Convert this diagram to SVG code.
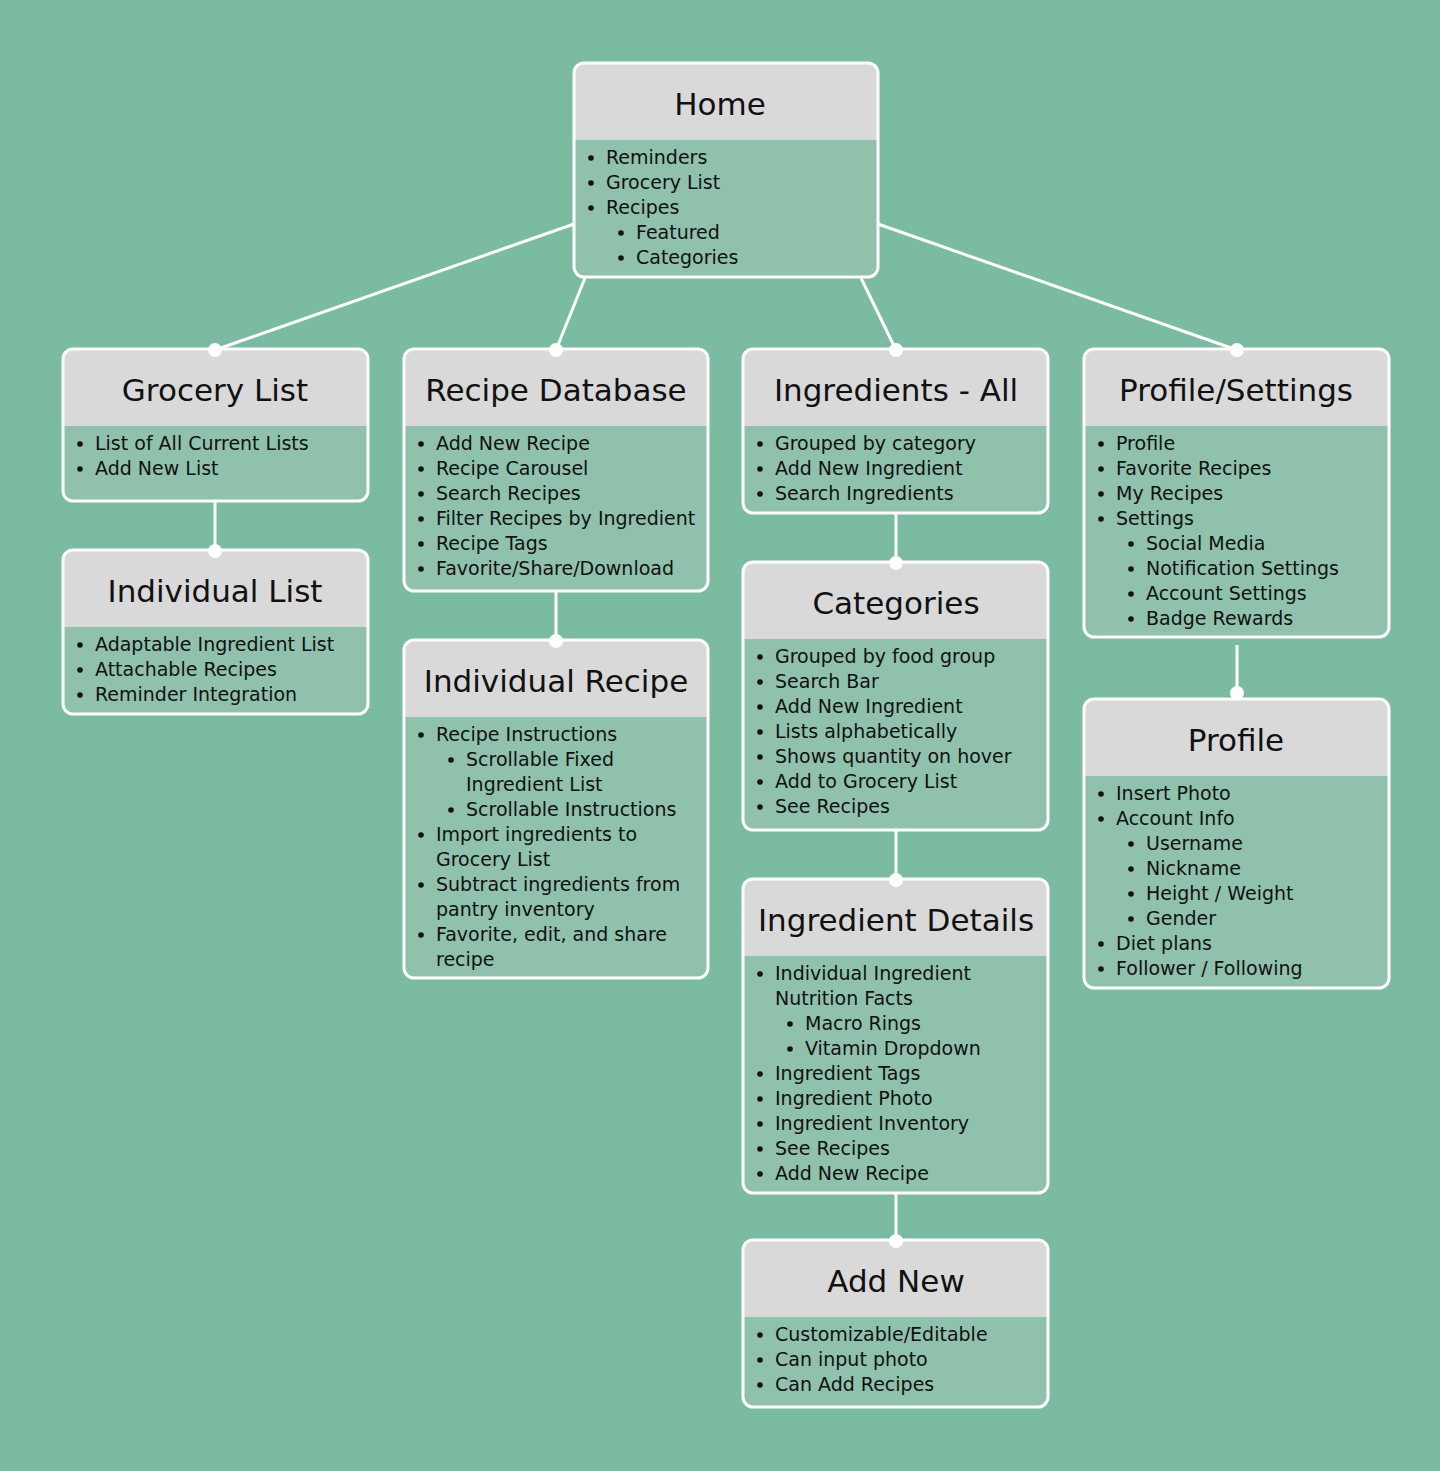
<svg xmlns="http://www.w3.org/2000/svg" width="1440" height="1471" viewBox="0 0 1440 1471">
<style>
.body{fill:#8fc1ad}
.hdr{fill:#d9d9d9}
.outline{fill:none;stroke:#ffffff;stroke-width:3}
.t{font-family:"DejaVu Sans",sans-serif;font-size:31px;fill:#111;text-anchor:middle}
.i{font-family:"DejaVu Sans",sans-serif;font-size:19px;fill:#111}
.b{fill:#111}
.conn{stroke:#ffffff;stroke-width:3;fill:none}
.dot{fill:#ffffff}
</style>
<rect x="0" y="0" width="1440" height="1471" fill="#7abba2"/>

<g id="home">
<rect class="body" x="574" y="63" width="304" height="214" rx="10"/>
<path class="hdr" d="M574,140 V73 Q574,63 584,63 H868 Q878,63 878,73 V140 Z"/>
<rect class="outline" x="574" y="63" width="304" height="214" rx="10"/>
<text class="t" x="720" y="115">Home</text>
<g transform="translate(0,1)">
<circle class="b" cx="591" cy="157" r="2.8"/><text class="i" x="606" y="163">Reminders</text>
<circle class="b" cx="591" cy="182" r="2.8"/><text class="i" x="606" y="188">Grocery List</text>
<circle class="b" cx="591" cy="207" r="2.8"/><text class="i" x="606" y="213">Recipes</text>
<circle class="b" cx="621" cy="232" r="2.8"/><text class="i" x="636" y="238">Featured</text>
<circle class="b" cx="621" cy="257" r="2.8"/><text class="i" x="636" y="263">Categories</text>
</g>
</g>

<g id="grocery-list">
<rect class="body" x="63" y="349" width="305" height="152" rx="10"/>
<path class="hdr" d="M63,426 V359 Q63,349 73,349 H358 Q368,349 368,359 V426 Z"/>
<rect class="outline" x="63" y="349" width="305" height="152" rx="10"/>
<text class="t" x="215" y="401">Grocery List</text>
<g transform="translate(0,1)">
<circle class="b" cx="80" cy="443" r="2.8"/><text class="i" x="95" y="449">List of All Current Lists</text>
<circle class="b" cx="80" cy="468" r="2.8"/><text class="i" x="95" y="474">Add New List</text>
</g>
</g>

<g id="recipe-database">
<rect class="body" x="404" y="349" width="304" height="242" rx="10"/>
<path class="hdr" d="M404,426 V359 Q404,349 414,349 H698 Q708,349 708,359 V426 Z"/>
<rect class="outline" x="404" y="349" width="304" height="242" rx="10"/>
<text class="t" x="556" y="401">Recipe Database</text>
<g transform="translate(0,1)">
<circle class="b" cx="421" cy="443" r="2.8"/><text class="i" x="436" y="449">Add New Recipe</text>
<circle class="b" cx="421" cy="468" r="2.8"/><text class="i" x="436" y="474">Recipe Carousel</text>
<circle class="b" cx="421" cy="493" r="2.8"/><text class="i" x="436" y="499">Search Recipes</text>
<circle class="b" cx="421" cy="518" r="2.8"/><text class="i" x="436" y="524">Filter Recipes by Ingredient</text>
<circle class="b" cx="421" cy="543" r="2.8"/><text class="i" x="436" y="549">Recipe Tags</text>
<circle class="b" cx="421" cy="568" r="2.8"/><text class="i" x="436" y="574">Favorite/Share/Download</text>
</g>
</g>

<g id="ingredients-all">
<rect class="body" x="743" y="349" width="305" height="164" rx="10"/>
<path class="hdr" d="M743,426 V359 Q743,349 753,349 H1038 Q1048,349 1048,359 V426 Z"/>
<rect class="outline" x="743" y="349" width="305" height="164" rx="10"/>
<text class="t" x="896" y="401">Ingredients - All</text>
<g transform="translate(0,1)">
<circle class="b" cx="760" cy="443" r="2.8"/><text class="i" x="775" y="449">Grouped by category</text>
<circle class="b" cx="760" cy="468" r="2.8"/><text class="i" x="775" y="474">Add New Ingredient</text>
<circle class="b" cx="760" cy="493" r="2.8"/><text class="i" x="775" y="499">Search Ingredients</text>
</g>
</g>

<g id="profile-settings">
<rect class="body" x="1084" y="349" width="305" height="288" rx="10"/>
<path class="hdr" d="M1084,426 V359 Q1084,349 1094,349 H1379 Q1389,349 1389,359 V426 Z"/>
<rect class="outline" x="1084" y="349" width="305" height="288" rx="10"/>
<text class="t" x="1236" y="401">Profile/Settings</text>
<g transform="translate(0,1)">
<circle class="b" cx="1101" cy="443" r="2.8"/><text class="i" x="1116" y="449">Profile</text>
<circle class="b" cx="1101" cy="468" r="2.8"/><text class="i" x="1116" y="474">Favorite Recipes</text>
<circle class="b" cx="1101" cy="493" r="2.8"/><text class="i" x="1116" y="499">My Recipes</text>
<circle class="b" cx="1101" cy="518" r="2.8"/><text class="i" x="1116" y="524">Settings</text>
<circle class="b" cx="1131" cy="543" r="2.8"/><text class="i" x="1146" y="549">Social Media</text>
<circle class="b" cx="1131" cy="568" r="2.8"/><text class="i" x="1146" y="574">Notification Settings</text>
<circle class="b" cx="1131" cy="593" r="2.8"/><text class="i" x="1146" y="599">Account Settings</text>
<circle class="b" cx="1131" cy="618" r="2.8"/><text class="i" x="1146" y="624">Badge Rewards</text>
</g>
</g>

<g id="individual-list">
<rect class="body" x="63" y="550" width="305" height="164" rx="10"/>
<path class="hdr" d="M63,627 V560 Q63,550 73,550 H358 Q368,550 368,560 V627 Z"/>
<rect class="outline" x="63" y="550" width="305" height="164" rx="10"/>
<text class="t" x="215" y="602">Individual List</text>
<g transform="translate(0,1)">
<circle class="b" cx="80" cy="644" r="2.8"/><text class="i" x="95" y="650">Adaptable Ingredient List</text>
<circle class="b" cx="80" cy="669" r="2.8"/><text class="i" x="95" y="675">Attachable Recipes</text>
<circle class="b" cx="80" cy="694" r="2.8"/><text class="i" x="95" y="700">Reminder Integration</text>
</g>
</g>

<g id="individual-recipe">
<rect class="body" x="404" y="640" width="304" height="338" rx="10"/>
<path class="hdr" d="M404,717 V650 Q404,640 414,640 H698 Q708,640 708,650 V717 Z"/>
<rect class="outline" x="404" y="640" width="304" height="338" rx="10"/>
<text class="t" x="556" y="692">Individual Recipe</text>
<g transform="translate(0,1)">
<circle class="b" cx="421" cy="734" r="2.8"/><text class="i" x="436" y="740">Recipe Instructions</text>
<circle class="b" cx="451" cy="759" r="2.8"/><text class="i" x="466" y="765">Scrollable Fixed</text>
<text class="i" x="466" y="790">Ingredient List</text>
<circle class="b" cx="451" cy="809" r="2.8"/><text class="i" x="466" y="815">Scrollable Instructions</text>
<circle class="b" cx="421" cy="834" r="2.8"/><text class="i" x="436" y="840">Import ingredients to</text>
<text class="i" x="436" y="865">Grocery List</text>
<circle class="b" cx="421" cy="884" r="2.8"/><text class="i" x="436" y="890">Subtract ingredients from</text>
<text class="i" x="436" y="915">pantry inventory</text>
<circle class="b" cx="421" cy="934" r="2.8"/><text class="i" x="436" y="940">Favorite, edit, and share</text>
<text class="i" x="436" y="965">recipe</text>
</g>
</g>

<g id="categories">
<rect class="body" x="743" y="562" width="305" height="268" rx="10"/>
<path class="hdr" d="M743,639 V572 Q743,562 753,562 H1038 Q1048,562 1048,572 V639 Z"/>
<rect class="outline" x="743" y="562" width="305" height="268" rx="10"/>
<text class="t" x="896" y="614">Categories</text>
<g transform="translate(0,1)">
<circle class="b" cx="760" cy="656" r="2.8"/><text class="i" x="775" y="662">Grouped by food group</text>
<circle class="b" cx="760" cy="681" r="2.8"/><text class="i" x="775" y="687">Search Bar</text>
<circle class="b" cx="760" cy="706" r="2.8"/><text class="i" x="775" y="712">Add New Ingredient</text>
<circle class="b" cx="760" cy="731" r="2.8"/><text class="i" x="775" y="737">Lists alphabetically</text>
<circle class="b" cx="760" cy="756" r="2.8"/><text class="i" x="775" y="762">Shows quantity on hover</text>
<circle class="b" cx="760" cy="781" r="2.8"/><text class="i" x="775" y="787">Add to Grocery List</text>
<circle class="b" cx="760" cy="806" r="2.8"/><text class="i" x="775" y="812">See Recipes</text>
</g>
</g>

<g id="ingredient-details">
<rect class="body" x="743" y="879" width="305" height="314" rx="10"/>
<path class="hdr" d="M743,956 V889 Q743,879 753,879 H1038 Q1048,879 1048,889 V956 Z"/>
<rect class="outline" x="743" y="879" width="305" height="314" rx="10"/>
<text class="t" x="896" y="931">Ingredient Details</text>
<g transform="translate(0,1)">
<circle class="b" cx="760" cy="973" r="2.8"/><text class="i" x="775" y="979">Individual Ingredient</text>
<text class="i" x="775" y="1004">Nutrition Facts</text>
<circle class="b" cx="790" cy="1023" r="2.8"/><text class="i" x="805" y="1029">Macro Rings</text>
<circle class="b" cx="790" cy="1048" r="2.8"/><text class="i" x="805" y="1054">Vitamin Dropdown</text>
<circle class="b" cx="760" cy="1073" r="2.8"/><text class="i" x="775" y="1079">Ingredient Tags</text>
<circle class="b" cx="760" cy="1098" r="2.8"/><text class="i" x="775" y="1104">Ingredient Photo</text>
<circle class="b" cx="760" cy="1123" r="2.8"/><text class="i" x="775" y="1129">Ingredient Inventory</text>
<circle class="b" cx="760" cy="1148" r="2.8"/><text class="i" x="775" y="1154">See Recipes</text>
<circle class="b" cx="760" cy="1173" r="2.8"/><text class="i" x="775" y="1179">Add New Recipe</text>
</g>
</g>

<g id="add-new">
<rect class="body" x="743" y="1240" width="305" height="167" rx="10"/>
<path class="hdr" d="M743,1317 V1250 Q743,1240 753,1240 H1038 Q1048,1240 1048,1250 V1317 Z"/>
<rect class="outline" x="743" y="1240" width="305" height="167" rx="10"/>
<text class="t" x="896" y="1292">Add New</text>
<g transform="translate(0,1)">
<circle class="b" cx="760" cy="1334" r="2.8"/><text class="i" x="775" y="1340">Customizable/Editable</text>
<circle class="b" cx="760" cy="1359" r="2.8"/><text class="i" x="775" y="1365">Can input photo</text>
<circle class="b" cx="760" cy="1384" r="2.8"/><text class="i" x="775" y="1390">Can Add Recipes</text>
</g>
</g>

<g id="profile">
<rect class="body" x="1084" y="699" width="305" height="289" rx="10"/>
<path class="hdr" d="M1084,776 V709 Q1084,699 1094,699 H1379 Q1389,699 1389,709 V776 Z"/>
<rect class="outline" x="1084" y="699" width="305" height="289" rx="10"/>
<text class="t" x="1236" y="751">Profile</text>
<g transform="translate(0,1)">
<circle class="b" cx="1101" cy="793" r="2.8"/><text class="i" x="1116" y="799">Insert Photo</text>
<circle class="b" cx="1101" cy="818" r="2.8"/><text class="i" x="1116" y="824">Account Info</text>
<circle class="b" cx="1131" cy="843" r="2.8"/><text class="i" x="1146" y="849">Username</text>
<circle class="b" cx="1131" cy="868" r="2.8"/><text class="i" x="1146" y="874">Nickname</text>
<circle class="b" cx="1131" cy="893" r="2.8"/><text class="i" x="1146" y="899">Height / Weight</text>
<circle class="b" cx="1131" cy="918" r="2.8"/><text class="i" x="1146" y="924">Gender</text>
<circle class="b" cx="1101" cy="943" r="2.8"/><text class="i" x="1116" y="949">Diet plans</text>
<circle class="b" cx="1101" cy="968" r="2.8"/><text class="i" x="1116" y="974">Follower / Following</text>
</g>
</g>

<g id="connectors">
<line class="conn" x1="574" y1="224" x2="215" y2="350"/>
<line class="conn" x1="585" y1="278" x2="556" y2="350"/>
<line class="conn" x1="861" y1="278" x2="896" y2="350"/>
<line class="conn" x1="878" y1="224" x2="1237" y2="350"/>
<line class="conn" x1="215" y1="502" x2="215" y2="551"/>
<line class="conn" x1="556" y1="592" x2="556" y2="641"/>
<line class="conn" x1="896" y1="514" x2="896" y2="563"/>
<line class="conn" x1="896" y1="831" x2="896" y2="880"/>
<line class="conn" x1="896" y1="1194" x2="896" y2="1241"/>
<line class="conn" x1="1237" y1="645" x2="1237" y2="693"/>
<circle class="dot" cx="215" cy="350" r="7"/>
<circle class="dot" cx="556" cy="350" r="7"/>
<circle class="dot" cx="896" cy="350" r="7"/>
<circle class="dot" cx="1237" cy="350" r="7"/>
<circle class="dot" cx="215" cy="551" r="7"/>
<circle class="dot" cx="556" cy="641" r="7"/>
<circle class="dot" cx="896" cy="563" r="7"/>
<circle class="dot" cx="896" cy="880" r="7"/>
<circle class="dot" cx="896" cy="1241" r="7"/>
<circle class="dot" cx="1237" cy="693" r="7"/>
</g>
</svg>
